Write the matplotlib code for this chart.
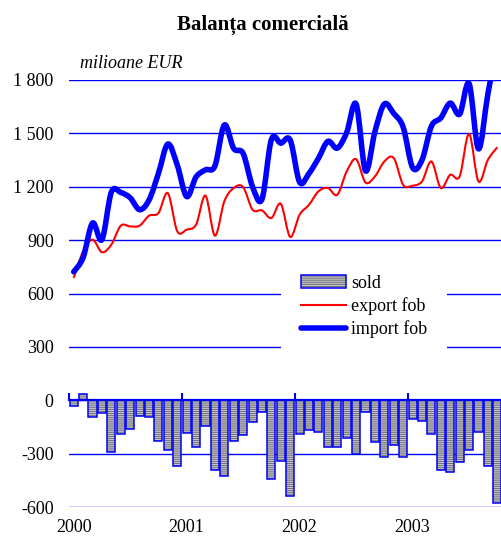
import numpy as np
import matplotlib
matplotlib.use('Agg')
import matplotlib.pyplot as plt
import matplotlib.transforms as mtransforms
from matplotlib.path import Path
from matplotlib.patches import PathPatch, Patch
from matplotlib.lines import Line2D
from matplotlib.ticker import FuncFormatter
from matplotlib.legend_handler import HandlerTuple

plt.rcParams['font.family'] = 'Liberation Serif'
plt.rcParams['hatch.linewidth'] = 0.7

# monthly values, Jan 2000 - Oct 2003, mil. EUR
years = ['2000', '2001', '2002', '2003']
sold = [-34, 35, -94, -71, -293, -191, -161, -90, -94, -231, -281, -371,
        -182, -261, -144, -394, -428, -227, -197, -122, -66, -441, -343, -540,
        -191, -169, -178, -262, -262, -210, -304, -68, -234, -319, -249, -319,
        -105, -118, -191, -394, -405, -345, -281, -180, -371, -578]
export_fob = [688, 837, 903, 832, 875, 981, 977, 981, 1037, 1052, 1164, 950,
              959, 987, 1150, 925, 1118, 1193, 1198, 1071, 1067, 1024, 1104, 918,
              1043, 1099, 1174, 1193, 1155, 1286, 1355, 1224, 1258, 1342, 1361, 1211,
              1206, 1230, 1342, 1193, 1267, 1258, 1497, 1230, 1351, 1422]
import_fob = [722, 802, 996, 903, 1170, 1168, 1138, 1071, 1125, 1275, 1440, 1322,
              1145, 1255, 1295, 1317, 1547, 1415, 1387, 1200, 1130, 1465, 1445, 1462,
              1226, 1275, 1360, 1455, 1417, 1505, 1665, 1290, 1510, 1665, 1612, 1535,
              1308, 1350, 1540, 1587, 1670, 1608, 1780, 1413, 1722, 2000]


def smooth_path(x, y):
    # Catmull-Rom curve through the monthly points, as cubic Bezier segments
    pts = np.column_stack([x, y]).astype(float)
    ext = np.vstack([pts[0], pts, pts[-1]])
    verts = [pts[0]]
    codes = [Path.MOVETO]
    for i in range(len(pts) - 1):
        p0, p1, p2, p3 = ext[i], ext[i + 1], ext[i + 2], ext[i + 3]
        verts += [p1 + (p2 - p0) / 6, p2 - (p3 - p1) / 6, p2]
        codes += [Path.CURVE4] * 3
    return Path(verts, codes)


x = np.arange(len(sold))
year_starts = np.arange(len(years)) * 12

fig = plt.figure(figsize=(5.02, 5.40), dpi=100)
ax = fig.add_axes([69 / 502, 33 / 540, 433 / 502, 427 / 540])

bar_face = '#c8c8c8'
bar_hatch = '#6e6e6e'
ax.bar(x, sold, width=0.86, color=bar_face, edgecolor=bar_hatch,
       hatch='--------', linewidth=0, zorder=2)
ax.bar(x, sold, width=0.86, fill=False, edgecolor='blue', linewidth=1.1, zorder=3)

ax.add_patch(PathPatch(smooth_path(x, export_fob), fill=False, edgecolor='red',
                       lw=1.5, zorder=4))
ax.add_patch(PathPatch(smooth_path(x, import_fob), fill=False, edgecolor='blue',
                       lw=4, capstyle='round', joinstyle='round', zorder=5))

ax.set_xlim(-0.5, len(sold) - 0.5)
ax.set_ylim(-600, 1800)
ax.set_yticks(np.arange(-600, 1801, 300))
ax.yaxis.set_major_formatter(FuncFormatter(lambda v, p: f'{int(v):,}'.replace(',', ' ')))
ax.tick_params(axis='y', length=0, pad=11, labelsize=13)
ax.yaxis.grid(True, color='blue', lw=1)
ax.set_axisbelow(True)

for side in ['left', 'top', 'right']:
    ax.spines[side].set_visible(False)
ax.spines['bottom'].set_position(('data', 0))
ax.spines['bottom'].set_color('blue')
ax.spines['bottom'].set_linewidth(1.6)
ax.set_xticks(year_starts - 0.5)
ax.tick_params(axis='x', direction='in', length=5, width=1.5, color='blue',
               labelbottom=False)

trans = mtransforms.blended_transform_factory(ax.transData, ax.transAxes)
for s, yr in zip(year_starts, years):
    ax.text(s, -0.049, yr, transform=trans, ha='center', va='center', fontsize=13)

fig.text(0.524, 0.954, 'Balanța comercială', ha='center', va='center',
         fontsize=15, fontweight='bold')
fig.text(0.159, 0.883, 'milioane EUR', ha='left', va='center',
         fontsize=13, fontstyle='italic')

sold_h = (Patch(facecolor=bar_face, edgecolor=bar_hatch, hatch='--------', lw=0),
          Patch(fill=False, edgecolor='blue', lw=1.1))
exp_h = Line2D([], [], color='red', lw=1.5)
imp_h = Line2D([], [], color='blue', lw=4, solid_capstyle='round')
leg = ax.legend([sold_h, exp_h, imp_h], ['sold', 'export fob', 'import fob'],
                handler_map={tuple: HandlerTuple(ndivide=1)},
                loc='upper left', bbox_to_anchor=(281 / 502, 1 - 255 / 540),
                bbox_transform=fig.transFigure, fontsize=13, frameon=True,
                fancybox=False, framealpha=1, edgecolor='none', facecolor='white',
                handlelength=2.5, handletextpad=0.28, labelspacing=0.3,
                borderpad=1.1, borderaxespad=0)
leg.set_zorder(6)

fig.savefig('out.png', dpi=100)
